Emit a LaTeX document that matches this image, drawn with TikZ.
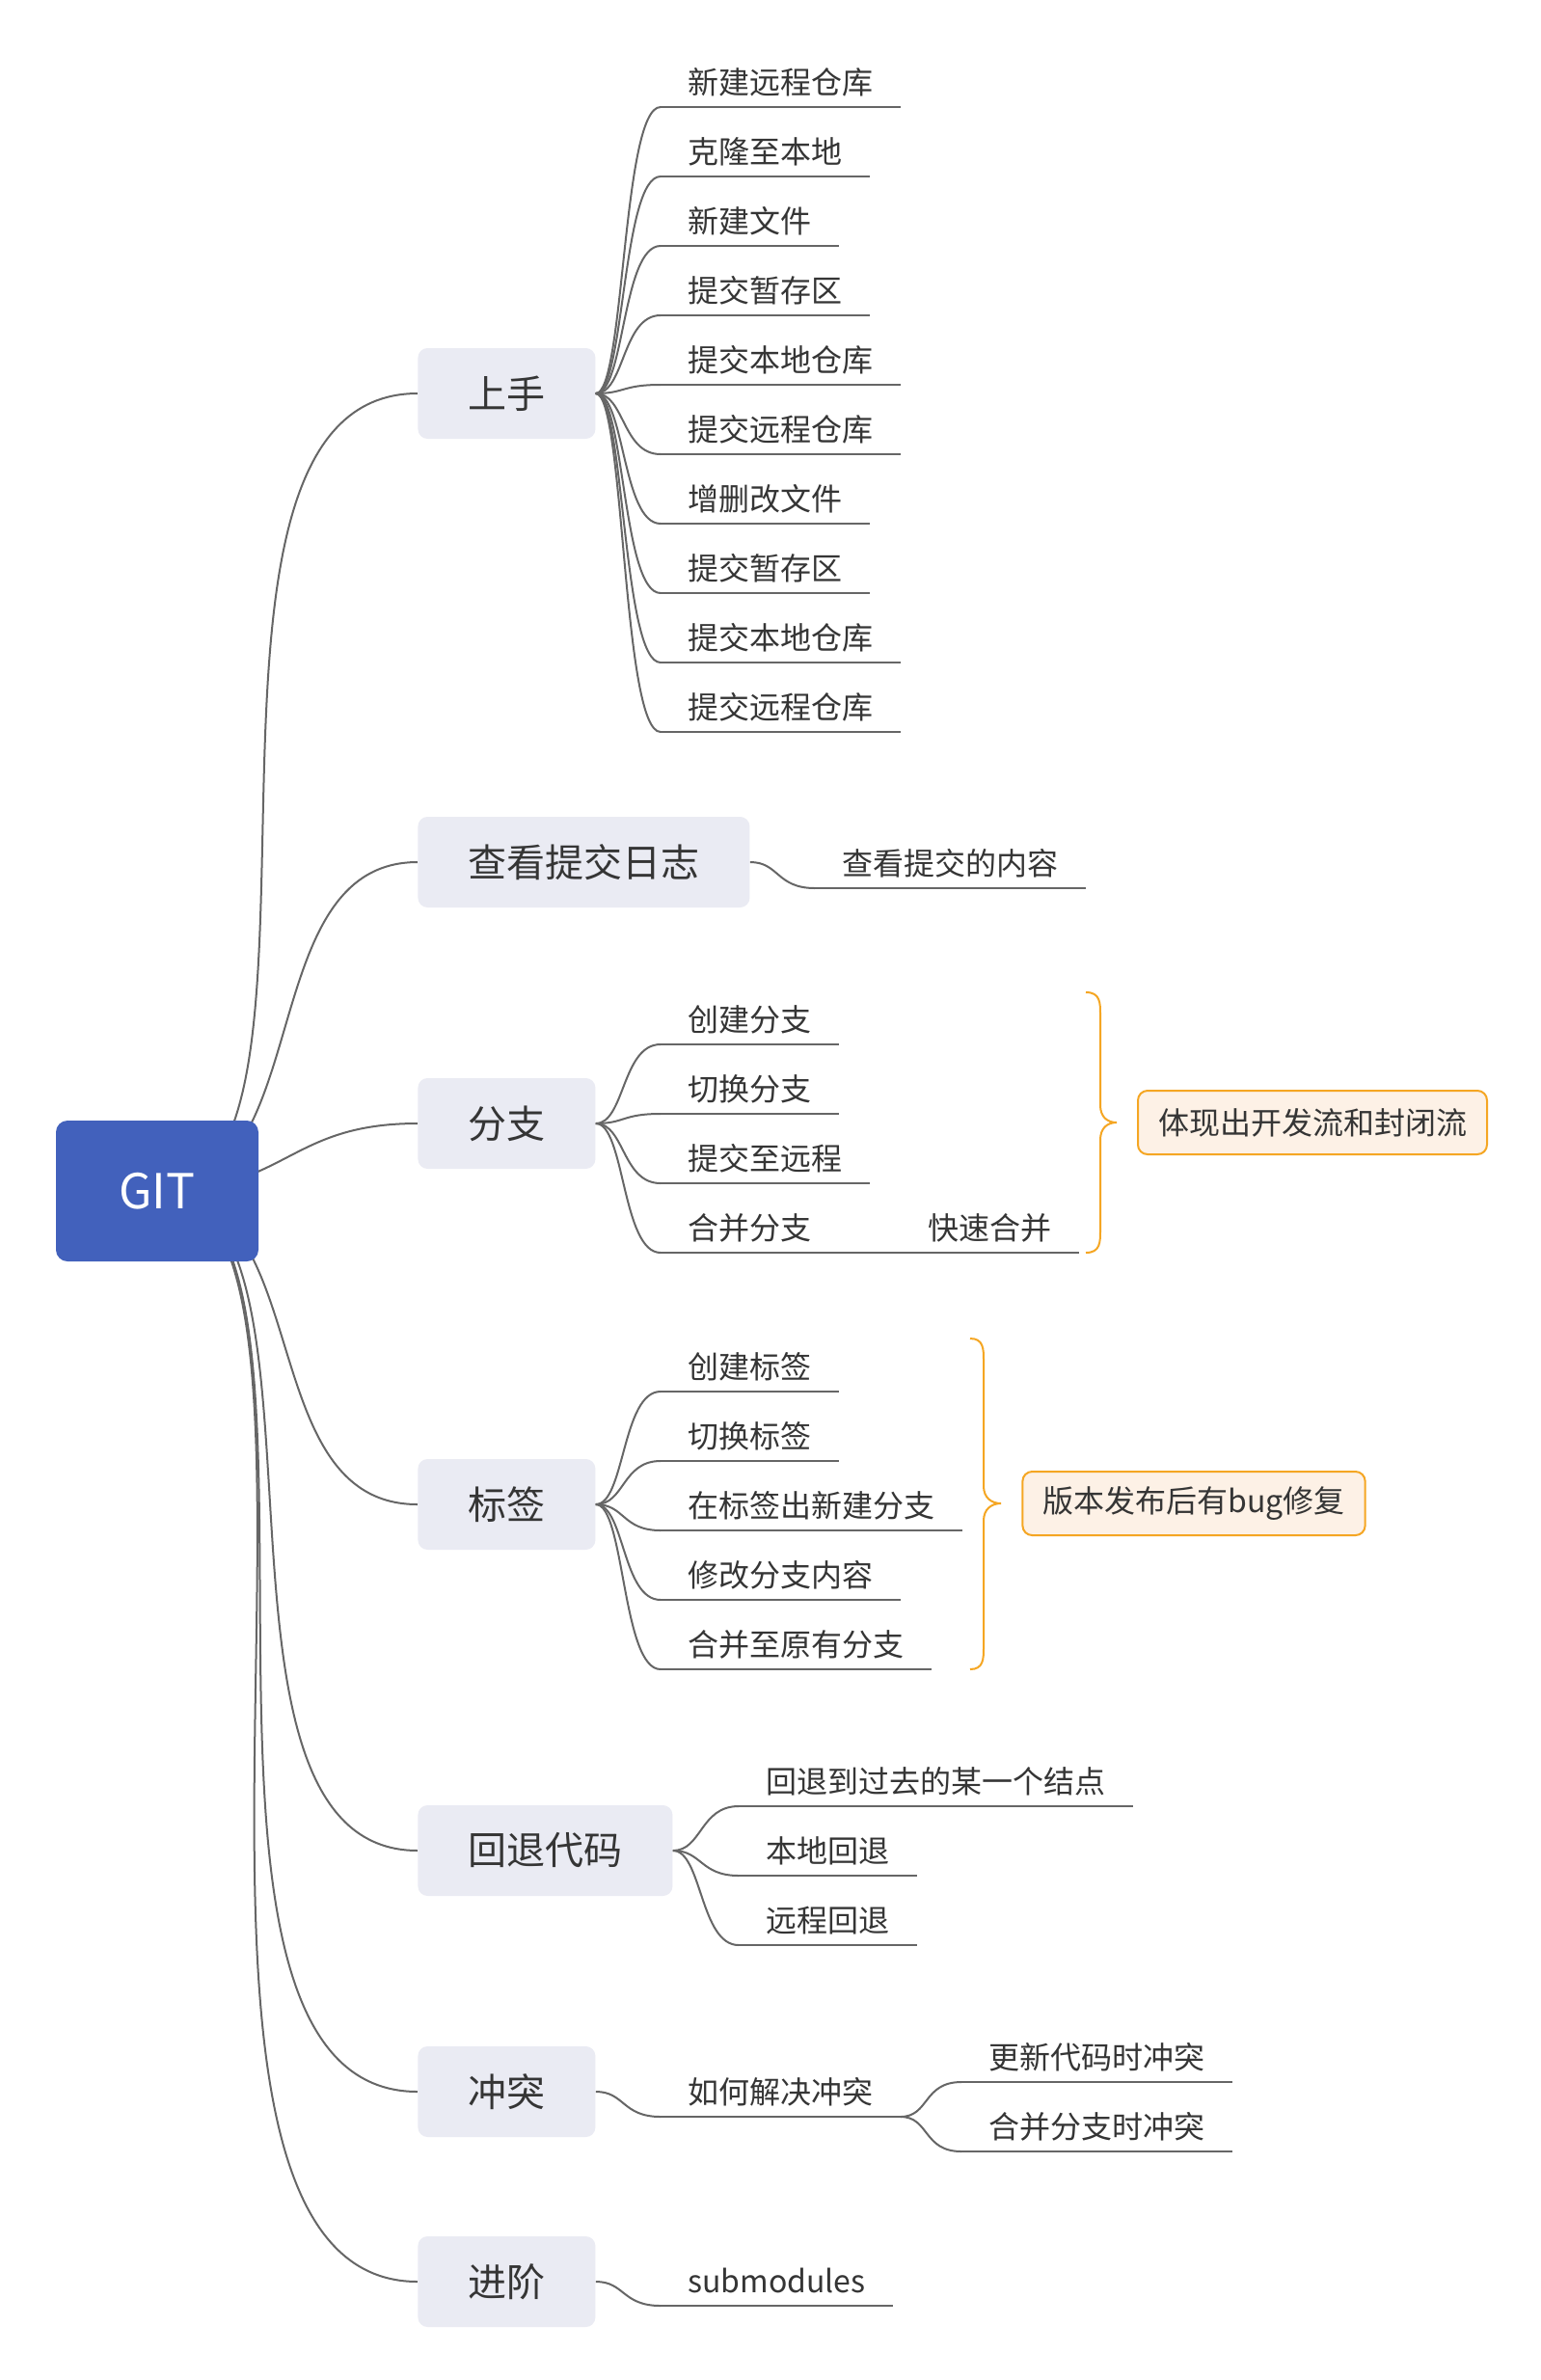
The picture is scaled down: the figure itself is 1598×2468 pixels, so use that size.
\documentclass[tikz,border=0pt]{standalone}
\usepackage{fontspec}
\setmainfont{Noto Sans CJK SC}
\usetikzlibrary{backgrounds}

\definecolor{gitblue}{HTML}{4261BC}
\definecolor{topicgray}{HTML}{EAEBF3}
\definecolor{linegray}{HTML}{666666}
\definecolor{txt}{HTML}{353535}
\definecolor{sumorange}{HTML}{F5A623}
\definecolor{sumfill}{HTML}{FDF1E6}

\tikzset{
  lnk/.style={draw=linegray, line width=1pt},
  root/.style={fill=gitblue, rounded corners=6pt, minimum width=105pt, minimum height=73pt, text=white, font=\fontsize{25}{25}\selectfont},
  topic/.style={anchor=west, fill=topicgray, rounded corners=5pt, minimum height=47pt, inner xsep=26pt, text=txt, font=\fontsize{20}{20}\selectfont},
  leaf/.style={anchor=south west, inner xsep=14pt, inner ysep=0pt, text height=12pt, text depth=6.5pt, text=txt, font=\fontsize{16}{16}\selectfont,
    append after command={(\tikzlastnode.south west) edge[lnk] (\tikzlastnode.south east)}},
  summary/.style={fill=sumfill, draw=sumorange, line width=1pt, rounded corners=5pt, minimum height=33pt, inner xsep=10.5pt, text=txt, font=\fontsize{16}{16}\selectfont},
  brace/.style={draw=sumorange, line width=1pt}
}

\begin{document}
\begin{tikzpicture}[x=0.5pt, y=-0.5pt]
  \useasboundingbox (0,0) rectangle (1598,2468);

  % root and main topics
  \node[root] (git) at (163,1235) {GIT};
  \node[topic] (T1) at (433,408) {上手};
  \node[topic] (T2) at (433,894) {查看提交日志};
  \node[topic] (T3) at (433,1165) {分支};
  \node[topic] (T4) at (433,1560) {标签};
  \node[topic] (T5) at (433,1919) {回退代码};
  \node[topic] (T6) at (433,2169) {冲突};
  \node[topic] (T7) at (433,2366) {进阶};

  % 上手
  \node[leaf] (A1) at (685,111) {新建远程仓库};
  \node[leaf] (A2) at (685,183) {克隆至本地};
  \node[leaf] (A3) at (685,255) {新建文件};
  \node[leaf] (A4) at (685,327) {提交暂存区};
  \node[leaf] (A5) at (685,399) {提交本地仓库};
  \node[leaf] (A6) at (685,471) {提交远程仓库};
  \node[leaf] (A7) at (685,543) {增删改文件};
  \node[leaf] (A8) at (685,615) {提交暂存区};
  \node[leaf] (A9) at (685,687) {提交本地仓库};
  \node[leaf] (A10) at (685,759) {提交远程仓库};

  % 查看提交日志
  \node[leaf] (B1) at (845,921) {查看提交的内容};

  % 分支
  \node[leaf] (C1) at (685,1083) {创建分支};
  \node[leaf] (C2) at (685,1155) {切换分支};
  \node[leaf] (C3) at (685,1227) {提交至远程};
  \node[leaf] (C4) at (685,1299) {合并分支};
  \node[leaf] (C5) at (934,1299) {快速合并};
  \node[summary] (SC) at (1361,1164) {体现出开发流和封闭流};

  % 标签
  \node[leaf] (D1) at (685,1443) {创建标签};
  \node[leaf] (D2) at (685,1515) {切换标签};
  \node[leaf] (D3) at (685,1587) {在标签出新建分支};
  \node[leaf] (D4) at (685,1659) {修改分支内容};
  \node[leaf] (D5) at (685,1731) {合并至原有分支};
  \node[summary] (SD) at (1238,1559) {版本发布后有bug修复};

  % 回退代码
  \node[leaf] (E1) at (766,1873) {回退到过去的某一个结点};
  \node[leaf] (E2) at (766,1945) {本地回退};
  \node[leaf] (E3) at (766,2017) {远程回退};

  % 冲突
  \node[leaf] (F1) at (685,2195) {如何解决冲突};
  \node[leaf] (F2) at (997,2159) {更新代码时冲突};
  \node[leaf] (F3) at (997,2231) {合并分支时冲突};

  % 进阶
  \node[leaf] (G1) at (685,2391) {submodules};

  \begin{scope}[on background layer]
    \fill[white] (0,0) rectangle (1598,2468);
    \draw[lnk] (git.center) .. controls +(217,0) and +(-283,0) .. (T1.west);
    \draw[lnk] (git.center) .. controls +(167,0) and +(-173,0) .. (T2.west);
    \draw[lnk] (git.center) .. controls +(135,0) and +(-135,0) .. (T3.west);
    \draw[lnk] (git.center) .. controls +(167,0) and +(-173,0) .. (T4.west);
    \draw[lnk] (git.center) .. controls +(205,0) and +(-250,0) .. (T5.west);
    \draw[lnk] (git.center) .. controls +(225,0) and +(-300,0) .. (T6.west);
    \draw[lnk] (git.center) .. controls +(240,0) and +(-330,0) .. (T7.west);
  \end{scope}

  \draw[lnk] (T1.east) .. controls +(30,0) and +(-40,0) .. (A1.south west);
  \draw[lnk] (T1.east) .. controls +(30,0) and +(-40,0) .. (A2.south west);
  \draw[lnk] (T1.east) .. controls +(30,0) and +(-40,0) .. (A3.south west);
  \draw[lnk] (T1.east) .. controls +(30,0) and +(-40,0) .. (A4.south west);
  \draw[lnk] (T1.east) .. controls +(30,0) and +(-40,0) .. (A5.south west);
  \draw[lnk] (T1.east) .. controls +(30,0) and +(-40,0) .. (A6.south west);
  \draw[lnk] (T1.east) .. controls +(30,0) and +(-40,0) .. (A7.south west);
  \draw[lnk] (T1.east) .. controls +(30,0) and +(-40,0) .. (A8.south west);
  \draw[lnk] (T1.east) .. controls +(30,0) and +(-40,0) .. (A9.south west);
  \draw[lnk] (T1.east) .. controls +(30,0) and +(-40,0) .. (A10.south west);

  \draw[lnk] (T2.east) .. controls +(30,0) and +(-40,0) .. (B1.south west);

  \draw[lnk] (T3.east) .. controls +(30,0) and +(-40,0) .. (C1.south west);
  \draw[lnk] (T3.east) .. controls +(30,0) and +(-40,0) .. (C2.south west);
  \draw[lnk] (T3.east) .. controls +(30,0) and +(-40,0) .. (C3.south west);
  \draw[lnk] (T3.east) .. controls +(30,0) and +(-40,0) .. (C4.south west);
  \draw[lnk] (C4.south east) -- (C5.south west);
  \draw[brace] (1126,1029) .. controls (1141,1029) and (1141,1040) .. (1141,1052) -- (1141,1146)
    .. controls (1141,1158) and (1148,1164) .. (1158,1164)
    .. controls (1148,1164) and (1141,1170) .. (1141,1182) -- (1141,1276)
    .. controls (1141,1288) and (1141,1299) .. (1126,1299);

  \draw[lnk] (T4.east) .. controls +(30,0) and +(-40,0) .. (D1.south west);
  \draw[lnk] (T4.east) .. controls +(30,0) and +(-40,0) .. (D2.south west);
  \draw[lnk] (T4.east) .. controls +(30,0) and +(-40,0) .. (D3.south west);
  \draw[lnk] (T4.east) .. controls +(30,0) and +(-40,0) .. (D4.south west);
  \draw[lnk] (T4.east) .. controls +(30,0) and +(-40,0) .. (D5.south west);
  \draw[brace] (1006,1388) .. controls (1020,1388) and (1020,1399) .. (1020,1411) -- (1020,1541)
    .. controls (1020,1553) and (1028,1559) .. (1038,1559)
    .. controls (1028,1559) and (1020,1565) .. (1020,1577) -- (1020,1708)
    .. controls (1020,1720) and (1020,1731) .. (1006,1731);

  \draw[lnk] (T5.east) .. controls +(30,0) and +(-40,0) .. (E1.south west);
  \draw[lnk] (T5.east) .. controls +(30,0) and +(-40,0) .. (E2.south west);
  \draw[lnk] (T5.east) .. controls +(30,0) and +(-40,0) .. (E3.south west);

  \draw[lnk] (T6.east) .. controls +(30,0) and +(-40,0) .. (F1.south west);
  \draw[lnk] (F1.south east) .. controls +(30,0) and +(-40,0) .. (F2.south west);
  \draw[lnk] (F1.south east) .. controls +(30,0) and +(-40,0) .. (F3.south west);

  \draw[lnk] (T7.east) .. controls +(30,0) and +(-40,0) .. (G1.south west);
\end{tikzpicture}
\end{document}
